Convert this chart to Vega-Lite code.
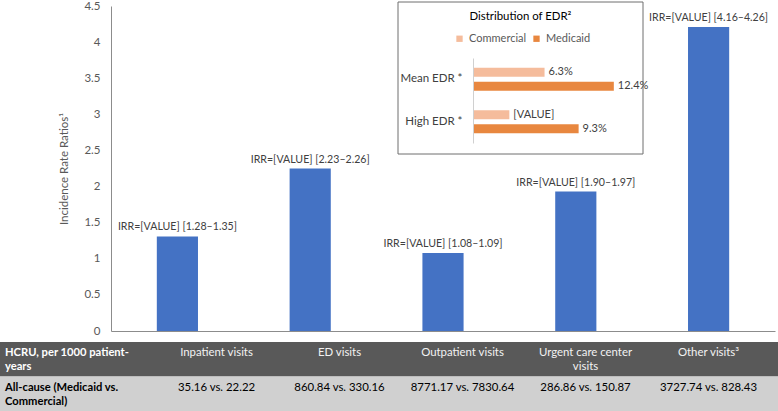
{
  "$schema": "https://vega.github.io/schema/vega-lite/v6.json",
  "width": 778,
  "height": 411,
  "autosize": {"type": "none"},
  "padding": 0,
  "background": "white",
  "config": {"view": {"stroke": null}, "font": "Lato", "text": {"font": "Lato"}},
  "datasets": {
    "bars": [
      {"category": "Inpatient visits", "irr": 1.31, "label": "IRR=[VALUE] [1.28–1.35]"},
      {"category": "ED visits", "irr": 2.25, "label": "IRR=[VALUE] [2.23–2.26]"},
      {"category": "Outpatient visits", "irr": 1.08, "label": "IRR=[VALUE] [1.08–1.09]"},
      {"category": "Urgent care center visits", "irr": 1.93, "label": "IRR=[VALUE] [1.90–1.97]"},
      {"category": "Other visits", "irr": 4.21, "label": "IRR=[VALUE] [4.16–4.26]"}
    ],
    "inset": [
      {"metric": "Mean EDR *", "payer": "Commercial", "pct": 6.3, "lbl": "6.3%"},
      {"metric": "Mean EDR *", "payer": "Medicaid", "pct": 12.4, "lbl": "12.4%"},
      {"metric": "High EDR *", "payer": "Commercial", "pct": 3.2, "lbl": "[VALUE]"},
      {"metric": "High EDR *", "payer": "Medicaid", "pct": 9.3, "lbl": "9.3%"}
    ],
    "tablebg": [
      {"row": "header"},
      {"row": "allcause"}
    ],
    "table": [
      {"row": "header", "col": "HCRU", "text": "HCRU, per 1000 patient-\nyears"},
      {"row": "header", "col": "Inpatient visits", "text": "Inpatient visits"},
      {"row": "header", "col": "ED visits", "text": "ED visits"},
      {"row": "header", "col": "Outpatient visits", "text": "Outpatient visits"},
      {"row": "header", "col": "Urgent care center visits", "text": "Urgent care center\nvisits"},
      {"row": "header", "col": "Other visits", "text": "Other visits³"},
      {"row": "allcause", "col": "HCRU", "text": "All-cause (Medicaid vs.\nCommercial)"},
      {"row": "allcause", "col": "Inpatient visits", "text": "35.16 vs. 22.22"},
      {"row": "allcause", "col": "ED visits", "text": "860.84 vs. 330.16"},
      {"row": "allcause", "col": "Outpatient visits", "text": "8771.17 vs. 7830.64"},
      {"row": "allcause", "col": "Urgent care center visits", "text": "286.86 vs. 150.87"},
      {"row": "allcause", "col": "Other visits", "text": "3727.74 vs. 828.43"}
    ]
  },
  "layer": [
    {
      "data": {"name": "bars"},
      "layer": [
        {
          "mark": {"type": "bar", "color": "#4472c4"},
          "encoding": {
            "x": {
              "field": "category", "type": "nominal", "sort": null,
              "scale": {"range": [111, 775], "paddingInner": 0.69, "paddingOuter": 0.345},
              "axis": {"orient": "bottom", "offset": -80, "labels": false, "ticks": false, "title": null, "grid": false, "domainColor": "#8c8c8c", "domainWidth": 1.2}
            },
            "y": {
              "field": "irr", "type": "quantitative",
              "scale": {"domain": [0, 4.5], "range": [331, 6], "nice": false},
              "axis": {
                "orient": "left", "offset": -111,
                "values": [0, 0.5, 1, 1.5, 2, 2.5, 3, 3.5, 4, 4.5],
                "format": "~g", "ticks": false, "grid": false, "labelFlush": false,
                "labelPadding": 11, "labelFontSize": 11.5, "labelColor": "#595959", "labelFont": "Lato",
                "domainColor": "#8c8c8c",
                "title": "Incidence Rate Ratios¹", "titleFont": "Lato", "titleFontSize": 11.5, "titleFontWeight": "normal",
                "titleColor": "#595959", "titlePadding": 14
              }
            }
          }
        },
        {
          "mark": {"type": "text", "baseline": "bottom", "dy": -4, "fontSize": 10.6, "color": "#404040"},
          "encoding": {
            "x": {"field": "category", "type": "nominal", "sort": null},
            "y": {"field": "irr", "type": "quantitative"},
            "text": {"field": "label"}
          }
        }
      ]
    },
    {
      "data": {"values": [{}]},
      "layer": [
        {
          "mark": {"type": "rect", "fill": "white", "stroke": "#6e6e6e", "strokeWidth": 1},
          "encoding": {
            "x": {"datum": 0, "type": "quantitative", "scale": {"domain": [0, 1], "range": [398, 643]}, "axis": null},
            "x2": {"datum": 1},
            "y": {"datum": 0, "type": "quantitative", "scale": {"domain": [0, 1], "range": [154, 2]}, "axis": null},
            "y2": {"datum": 1}
          }
        },
        {
          "mark": {"type": "text", "text": "Distribution of EDR²", "fontSize": 11.4, "color": "#000000", "baseline": "middle"},
          "encoding": {
            "x": {"datum": 0.5, "type": "quantitative"},
            "y": {"datum": 0.9, "type": "quantitative"}
          }
        }
      ]
    },
    {
      "data": {"name": "inset"},
      "layer": [
        {
          "mark": {"type": "bar"},
          "encoding": {
            "x": {"field": "pct", "type": "quantitative", "scale": {"domain": [0, 14], "range": [473, 632]}, "axis": null},
            "y": {
              "field": "metric", "type": "nominal", "sort": null,
              "scale": {"range": [58, 143], "paddingInner": 0.46, "paddingOuter": 0.23},
              "axis": {"orient": "left", "offset": -473, "zindex": 2, "ticks": false, "grid": false, "title": null, "domainColor": "#d0d0d0", "labelPadding": 11, "labelFontSize": 11.5, "labelColor": "#404040", "labelFont": "Lato"}
            },
            "yOffset": {"field": "payer", "type": "nominal", "sort": null, "scale": {"paddingInner": 0.35, "paddingOuter": 0}},
            "color": {
              "field": "payer", "type": "nominal", "sort": null,
              "scale": {"domain": ["Commercial", "Medicaid"], "range": ["#f5bc9c", "#e8873f"]},
              "legend": {
                "orient": "none", "legendX": 454, "legendY": 33, "direction": "horizontal", "title": null,
                "symbolType": "square", "symbolSize": 40, "symbolStrokeWidth": 0, "labelFontSize": 11, "labelFont": "Lato",
                "labelColor": "#595959", "columnPadding": 4, "labelOffset": 4, "padding": 0
              }
            }
          }
        },
        {
          "mark": {"type": "text", "align": "left", "baseline": "middle", "dx": 4, "fontSize": 11, "color": "#404040"},
          "encoding": {
            "x": {"field": "pct", "type": "quantitative"},
            "y": {"field": "metric", "type": "nominal", "sort": null},
            "yOffset": {"field": "payer", "type": "nominal", "sort": null},
            "text": {"field": "lbl"}
          }
        }
      ]
    },
    {
      "layer": [
        {
          "data": {"name": "tablebg"},
          "mark": {"type": "rect"},
          "encoding": {
            "y": {"field": "row", "type": "nominal", "sort": null, "scale": {"domain": ["header", "allcause"], "range": [342, 411], "paddingInner": 0, "paddingOuter": 0}, "axis": null},
            "color": {"field": "row", "type": "nominal", "scale": {"domain": ["header", "allcause"], "range": ["#595959", "#d0d0d0"]}, "legend": null}
          }
        },
        {
          "data": {"name": "table"},
          "transform": [{"filter": "datum.col !== 'HCRU'"}],
          "mark": {"type": "text", "align": "center", "baseline": "top", "dy": -12, "fontSize": 11.4, "lineHeight": 14, "lineBreak": "\n"},
          "encoding": {
            "x": {"field": "col", "type": "nominal", "sort": null, "scale": {"domain": ["HCRU", "Inpatient visits", "ED visits", "Outpatient visits", "Urgent care center visits", "Other visits"], "range": [32, 770], "paddingInner": 0, "paddingOuter": 0}, "axis": null},
            "y": {"field": "row", "type": "nominal", "sort": null},
            "text": {"field": "text"},
            "color": {"condition": {"test": "datum.row === 'header'", "value": "#f2f2f2"}, "value": "#000000"}
          }
        },
        {
          "data": {"name": "table"},
          "transform": [{"filter": "datum.col === 'HCRU'"}],
          "mark": {"type": "text", "align": "left", "baseline": "top", "dy": -12, "dx": -88.5, "fontSize": 11.2, "fontWeight": "bold", "lineHeight": 14, "lineBreak": "\n"},
          "encoding": {
            "x": {"field": "col", "type": "nominal", "sort": null},
            "y": {"field": "row", "type": "nominal", "sort": null},
            "text": {"field": "text"},
            "color": {"condition": {"test": "datum.row === 'header'", "value": "#ffffff"}, "value": "#000000"}
          }
        }
      ]
    }
  ],
  "resolve": {"scale": {"x": "independent", "y": "independent", "color": "independent"}}
}
